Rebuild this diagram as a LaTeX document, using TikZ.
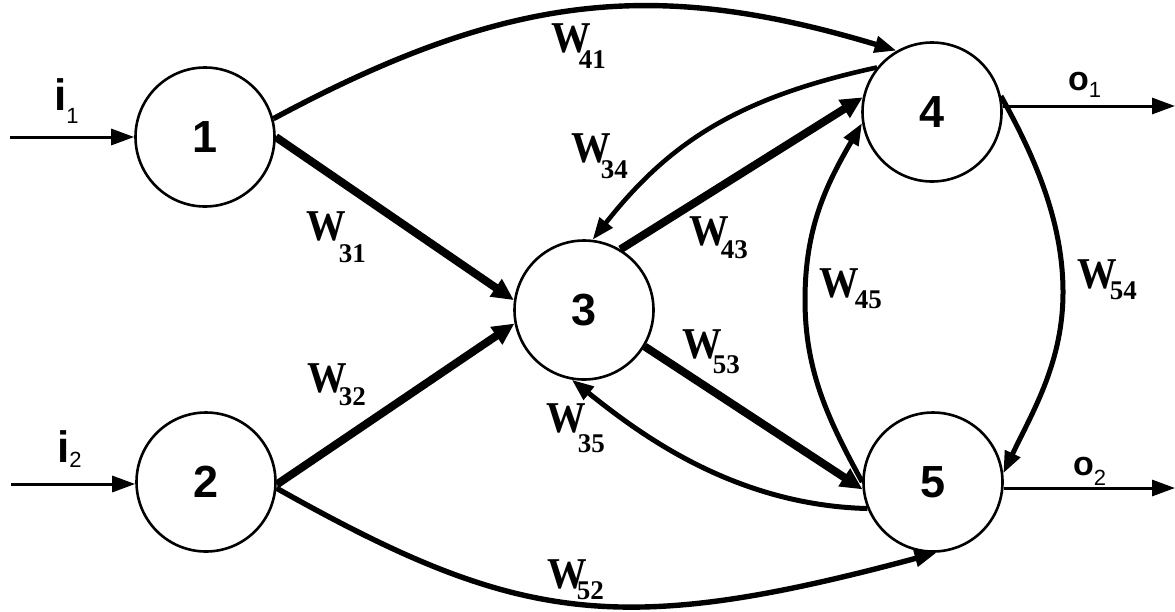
\documentclass[tikz,border=0pt]{standalone}
\usepackage{fontspec}
\usetikzlibrary{arrows.meta}
\newfontfamily\sansfam{Liberation Sans}
\newfontfamily\seriffam[FakeStretch=0.9]{Liberation Serif}
\newfontfamily\serifsub{Liberation Serif}
\newcommand\numfont{\sansfam\bfseries\fontsize{45}{45}\selectfont}
\newcommand\wbig{\seriffam\bfseries\fontsize{44}{44}\selectfont}
\newcommand\wsmall{\serifsub\bfseries\fontsize{27}{27}\selectfont}
\newcommand\wlab[3]{{\wbig W}\kern#3pt\raisebox{-#2pt}{\wsmall #1}}
\newcommand\iolab[5]{{\sansfam\bfseries\fontsize{#4}{#4}\selectfont #1}\kern#5pt\raisebox{-#3pt}{\sansfam\fontsize{22}{22}\selectfont #2}}
\tikzset{
  neuron/.style={circle, draw, line width=2.6pt, minimum size=139pt, inner sep=0pt, font=\numfont},
  thickedge/.style={line width=8pt, -{Triangle[length=22pt,width=20pt]}},
  curveedge/.style={line width=5pt, -{Triangle[length=22pt,width=16pt]}},
  ioedge/.style={line width=3pt, -{Triangle[length=23pt,width=16pt]}},
  lab/.style={anchor=base west, inner sep=0pt}
}
\begin{document}
\begin{tikzpicture}[x=1pt,y=-1pt]
\fill[white] (0,0) rectangle (1175,611);
\useasboundingbox (0,0) rectangle (1175,611);
% neurons
\node[neuron] (n1) at (205,137) {1};
\node[neuron] (n2) at (206,482) {2};
\node[neuron] (n3) at (584,310) {3};
\node[neuron] (n4) at (932,112) {4};
\node[neuron] (n5) at (933,482) {5};
% free ends
\coordinate (in1) at (10,137);
\coordinate (in2) at (11,484);
\coordinate (out1) at (1175,106);
\coordinate (out2) at (1175,488);
% inputs / outputs
\draw[ioedge] (in1) -- (n1.west |- in1);
\draw[ioedge] (in2) -- (n2.west |- in2);
\draw[ioedge] (out1 -| n4.east) -- (out1);
\draw[ioedge] (out2 -| n5.east) -- (out2);
% thick straight connections
\draw[thickedge] (n1.0) -- (n3.172);
\draw[thickedge] (n2.-2) -- (n3.191);
\draw[thickedge] (n3.59) -- (n4.168);
\draw[thickedge] (n3.-31) -- (n5.186);
% curved connections
\draw[curveedge, line width=5.4pt] (n1.15) .. controls (511,-9) and (658,-21) .. (n4.120);
\draw[curveedge, line width=5.4pt] (n2.-5) .. controls (518,624) and (619,638) .. (n5.-87);
\draw[curveedge, line width=4.6pt] (n4.141) .. controls (741,97) and (671,140) .. (n3.83);
\draw[curveedge] (n5.180) .. controls (829,421) and (805,372) .. (805,300)
   .. controls (805,228) and (826,185) .. (n4.189);
\draw[curveedge] (n4.13) .. controls (1035,157) and (1063,222) .. (1063,292)
   .. controls (1063,362) and (1033,411) .. (n5.7);
\draw[curveedge] (n5.202) .. controls (730,505) and (634,429) .. (n3.260);
% labels
\node[lab] (li1) at (54,110) {\iolab{i}{1}{13}{44}{0}};
\node[lab] (li2) at (57,462) {\iolab{i}{2}{5}{44}{0}};
\node[lab] (lo1) at (1068,90) {\iolab{o}{1}{7}{34}{0}};
\node[lab] (lo2) at (1073,475) {\iolab{o}{2}{10}{34}{0}};
\node[lab] (w41) at (551,52) {\wlab{41}{16}{-12}};
\node[lab] (w31) at (306,240) {\wlab{31}{22}{-7}};
\node[lab] (w32) at (307,392) {\wlab{32}{13}{-8}};
\node[lab] (w34) at (571,162) {\wlab{34}{16}{-10}};
\node[lab] (w43) at (689,245) {\wlab{43}{13}{-8}};
\node[lab] (w45) at (819,297) {\wlab{45}{11}{-4}};
\node[lab] (w54) at (1077,288) {\wlab{54}{11}{-7}};
\node[lab] (w53) at (682,358) {\wlab{53}{15}{-9}};
\node[lab] (w35) at (546,432) {\wlab{35}{20}{-8}};
\node[lab] (w52) at (547,588) {\wlab{52}{11}{-10}};
\end{tikzpicture}
\end{document}
